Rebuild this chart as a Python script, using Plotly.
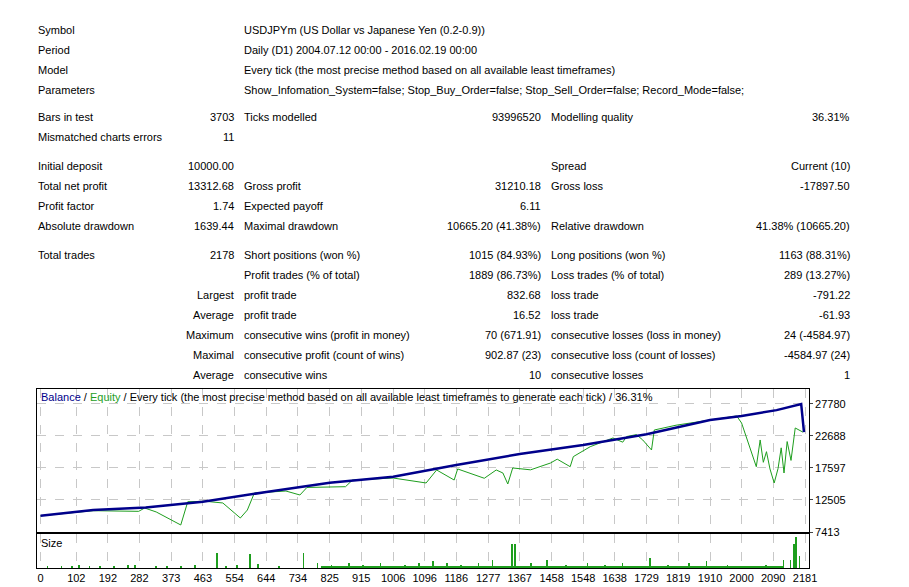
import plotly.graph_objects as go
from plotly.subplots import make_subplots

W, H = 909, 587
bal_x = [0, 150, 300, 463, 644, 825, 1006, 1186, 1367, 1548, 1729, 1910, 2000, 2100, 2170, 2178]
bal_y = [10000, 10900, 11300, 12230, 13777, 15260, 16210, 18070, 19820, 21250, 22960, 25230, 25870, 26800, 27780, 23313]
eq_x = [0, 150, 280, 297, 330, 373, 400, 420, 470, 520, 570, 590, 610, 700, 740, 760, 870, 890, 1006, 1100, 1130,
        1180, 1190, 1266, 1300, 1319, 1333, 1347, 1398, 1455, 1474, 1511, 1520, 1568, 1633, 1661, 1672, 1700, 1718,
        1743, 1751, 1813, 1887, 1986, 2000, 2042, 2053, 2062, 2071, 2081, 2093, 2104, 2113, 2121, 2130, 2141, 2153, 2175]
eq_y = [10000, 10800, 10700, 11230, 10600, 9320, 8530, 12230, 12300, 12030, 9640, 10910, 13620, 13930, 13300, 14500,
        14620, 15680, 16000, 15210, 17280, 15680, 17440, 15960, 17280, 16800, 15050, 17600, 17300, 18390, 19000, 17800,
        19400, 20980, 22370, 21700, 22600, 22900, 22050, 20460, 23640, 24400, 25070, 25870, 24750, 17800, 22050, 18500,
        20190, 17440, 15210, 17500, 20800, 16800, 21800, 18800, 23960, 23300]
size_x = [20, 60, 90, 110, 140, 170, 210, 250, 270, 330, 360, 400, 440, 503, 530, 560, 597, 620, 680, 750, 790, 830,
          880, 920, 970, 1040, 1080, 1120, 1160, 1200, 1250, 1290, 1345, 1353, 1400, 1445, 1500, 1560, 1610, 1660,
          1738, 1790, 1850, 1900, 1960, 2010, 2070, 2120, 2140, 2150, 2155, 2165]
size_y = [0.06, 0.06, 0.06, 0.08, 0.06, 0.06, 0.06, 0.1, 0.08, 0.06, 0.06, 0.06, 0.1, 0.45, 0.06, 0.08, 0.4, 0.12,
          0.06, 0.45, 0.15, 0.1, 0.15, 0.1, 0.15, 0.1, 0.15, 0.2, 0.15, 0.1, 0.15, 0.25, 0.7, 0.7, 0.15, 0.25, 0.1,
          0.15, 0.1, 0.15, 0.3, 0.1, 0.15, 0.2, 0.1, 0.06, 0.1, 0.25, 0.25, 0.7, 0.9, 0.35]
base_x = [800, 2120]
xticks = [0, 102, 192, 282, 373, 463, 554, 644, 734, 825, 915, 1006, 1096, 1186, 1277, 1367, 1458, 1548, 1638,
          1729, 1819, 1910, 2000, 2090, 2181]
yticks = [7413, 12505, 17597, 22688, 27780]

fig = make_subplots(rows=2, cols=1)
fig.add_trace(go.Scatter(x=eq_x, y=eq_y, mode="lines", line=dict(color="#1e9e1e", width=1)), 1, 1)
fig.add_trace(go.Scatter(x=bal_x, y=bal_y, mode="lines", line=dict(color="#00008b", width=2.5)), 1, 1)
fig.add_trace(go.Bar(x=size_x, y=size_y, width=1.8, marker=dict(color="#1e9e1e", line_width=0)), 2, 1)
fig.add_trace(go.Scatter(x=base_x, y=[0.03, 0.03], mode="lines", line=dict(color="#1e9e1e", width=2)), 2, 1)

xr = [-10, 2192]
ax = dict(range=xr, tickvals=xticks, showgrid=True, gridcolor="#c8c8c8", griddash="dash", zeroline=False,
          showline=True, linecolor="black", mirror=True, linewidth=1)
fig.update_layout(
    xaxis=dict(ax, domain=[37/W, 808/W], showticklabels=False, anchor="y"),
    xaxis2=dict(ax, domain=[37/W, 808/W], ticks="", tickfont=dict(size=11), anchor="y2"),
    yaxis=dict(domain=[1-532/H, 1-389/H], range=[7413, 30160], tickvals=yticks,
               ticktext=[str(v) for v in yticks], side="right",
               showgrid=True, gridcolor="#c8c8c8", griddash="dash", zeroline=False, showline=True,
               linecolor="black", mirror=True, tickfont=dict(size=11), ticks="outside", ticklen=3),
    yaxis2=dict(domain=[1-568/H, 1-534/H], range=[0, 1], showticklabels=False, showgrid=False, zeroline=False,
                showline=True, linecolor="black", mirror=True),
    width=918, height=593, margin=dict(l=0, r=0, t=0, b=0), showlegend=False,
    plot_bgcolor="white", paper_bgcolor="white",
    font=dict(family="Liberation Sans", size=11, color="black"), bargap=0,
)

def txt(x, y, s, anchor="left", color="black"):
    fig.add_annotation(x=x/W, y=1-y/H, xref="paper", yref="paper", text=s, showarrow=False,
                       xanchor=anchor, yanchor="middle", borderpad=0, font=dict(size=11, color=color))

rows = [
    (30, "Symbol", "", "USDJPYm (US Dollar vs Japanese Yen (0.2-0.9))", "", "", ""),
    (50, "Period", "", "Daily (D1) 2004.07.12 00:00 - 2016.02.19 00:00", "", "", ""),
    (70, "Model", "", "Every tick (the most precise method based on all available least timeframes)", "", "", ""),
    (90, "Parameters", "", "Show_Infomation_System=false; Stop_Buy_Order=false; Stop_Sell_Order=false; Record_Mode=false;", "", "", ""),
    (117, "Bars in test", "3703", "Ticks modelled", "93996520", "Modelling quality", "36.31%"),
    (137, "Mismatched charts errors", "11", "", "", "", ""),
    (166, "Initial deposit", "10000.00", "", "", "Spread", "Current (10)"),
    (186, "Total net profit", "13312.68", "Gross profit", "31210.18", "Gross loss", "-17897.50"),
    (206, "Profit factor", "1.74", "Expected payoff", "6.11", "", ""),
    (226, "Absolute drawdown", "1639.44", "Maximal drawdown", "10665.20 (41.38%)", "Relative drawdown", "41.38% (10665.20)"),
    (255, "Total trades", "2178", "Short positions (won %)", "1015 (84.93%)", "Long positions (won %)", "1163 (88.31%)"),
    (275, "", "", "Profit trades (% of total)", "1889 (86.73%)", "Loss trades (% of total)", "289 (13.27%)"),
    (295, "", "Largest", "profit trade", "832.68", "loss trade", "-791.22"),
    (315, "", "Average", "profit trade", "16.52", "loss trade", "-61.93"),
    (335, "", "Maximum", "consecutive wins (profit in money)", "70 (671.91)", "consecutive losses (loss in money)", "24 (-4584.97)"),
    (355, "", "Maximal", "consecutive profit (count of wins)", "902.87 (23)", "consecutive loss (count of losses)", "-4584.97 (24)"),
    (375, "", "Average", "consecutive wins", "10", "consecutive losses", "1"),
]
for y, a, b, c, d, e, f in rows:
    if a: txt(37, y, a)
    if b: txt(235, y, b, "right")
    if c: txt(243, y, c)
    if d: txt(541, y, d, "right")
    if e: txt(549, y, e)
    if f: txt(850, y, f, "right")

txt(40, 397, "<span style='color:#00008b'>Balance</span> / <span style='color:#1e9e1e'>Equity</span> / Every tick (the most precise method based on all available least timeframes to generate each tick) / 36.31%")
txt(40, 543, "Size")

fig.write_html("out.html", config={"displayModeBar": False})
with open("out.html", encoding="utf-8") as fh:
    page = fh.read()
page = page.replace("<head>", "<head><style>html,body{margin:0;padding:0;overflow:hidden}</style>", 1)
with open("out.html", "w", encoding="utf-8") as fh:
    fh.write(page)
